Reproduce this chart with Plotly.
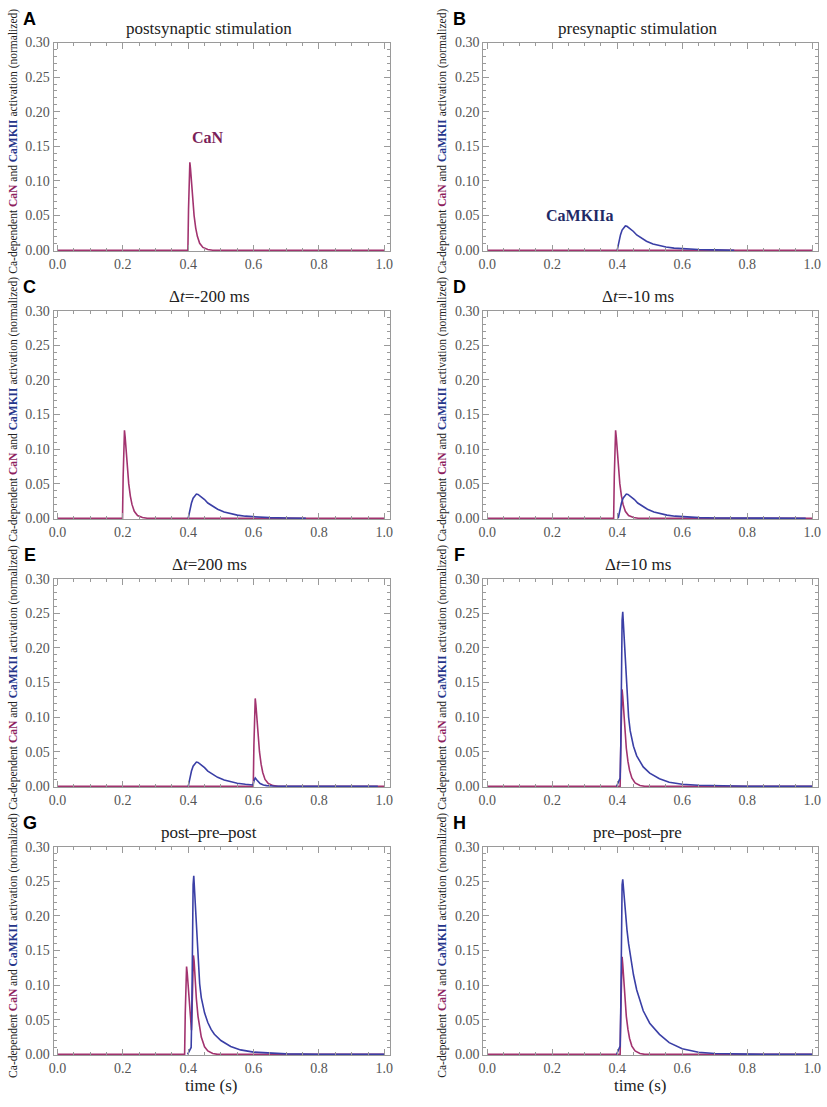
import plotly.graph_objects as go
from plotly.subplots import make_subplots

# ---- data ----
# single postsynaptic spike -> CaN transient (values)
can_single = [0, 0, 0.06, 0.118, 0.127, 0.118, 0.095, 0.07, 0.05, 0.032, 0.02, 0.01, 0.004, 0.001, 0, 0]
# times of that transient in each panel
a_t_can = [0.0, 0.399, 0.401, 0.403, 0.405, 0.407, 0.410, 0.414, 0.418, 0.423, 0.428, 0.435, 0.445, 0.460, 0.475, 1.0]
c_t_can = [0.0, 0.199, 0.201, 0.203, 0.205, 0.207, 0.210, 0.214, 0.218, 0.223, 0.228, 0.235, 0.245, 0.260, 0.275, 1.0]
d_t_can = [0.0, 0.389, 0.391, 0.393, 0.395, 0.397, 0.400, 0.404, 0.408, 0.413, 0.418, 0.425, 0.435, 0.450, 0.465, 1.0]
e_t_can = [0.0, 0.599, 0.601, 0.603, 0.605, 0.607, 0.610, 0.614, 0.618, 0.623, 0.628, 0.635, 0.645, 0.660, 0.675, 1.0]

# flat CaN (presynaptic only)
b_t_can = [0.0, 1.0]
b_y_can = [0, 0]

# single presynaptic spike -> CaMKII transient
camk_single = [0, 0.012, 0.022, 0.029, 0.033, 0.035, 0.0345, 0.031, 0.027, 0.022, 0.017,
               0.013, 0.009, 0.0065, 0.0045, 0.003, 0.002, 0.0009, 0.0004, 0.0]
b_t_camk = [0.400, 0.405, 0.410, 0.415, 0.420, 0.425, 0.430, 0.440, 0.450, 0.460, 0.475,
            0.490, 0.510, 0.530, 0.550, 0.575, 0.600, 0.650, 0.700, 0.760]
d_t_camk = [0.403, 0.408, 0.413, 0.418, 0.423, 0.428, 0.433, 0.443, 0.453, 0.463, 0.478,
            0.493, 0.513, 0.533, 0.553, 0.578, 0.603, 0.653, 0.703, 0.980]

# pre 0.4, post 0.6
e_t_camk = [0.400, 0.405, 0.410, 0.415, 0.420, 0.425, 0.430, 0.440, 0.450, 0.460, 0.475, 0.490,
            0.510, 0.530, 0.550, 0.575, 0.598, 0.602, 0.605, 0.610, 0.615, 0.620, 0.630, 0.640,
            0.660, 0.700, 0.980]
e_y_camk = [0, 0.012, 0.022, 0.029, 0.033, 0.035, 0.0345, 0.031, 0.027, 0.022, 0.017, 0.013,
            0.009, 0.0065, 0.0045, 0.003, 0.002, 0.009, 0.012, 0.009, 0.006, 0.004, 0.002, 0.001,
            0.0004, 0.0001, 0]

# pre 0.4, post 0.41
f_t_camk = [0.398, 0.402, 0.406, 0.409, 0.411, 0.413, 0.415, 0.417, 0.419, 0.422, 0.425, 0.430,
            0.435, 0.440, 0.450, 0.460, 0.470, 0.480, 0.500, 0.530, 0.560, 0.600, 0.650, 0.700,
            0.800, 1.000]
f_y_camk = [0, 0.004, 0.008, 0.012, 0.06, 0.18, 0.24, 0.252, 0.235, 0.2, 0.17, 0.13,
            0.1, 0.08, 0.058, 0.044, 0.035, 0.028, 0.019, 0.011, 0.006, 0.003, 0.0015, 0.0007,
            0.0002, 0]
f_t_can = [0.0, 0.409, 0.411, 0.413, 0.415, 0.417, 0.420, 0.424, 0.428, 0.433, 0.438, 0.445,
           0.455, 0.470, 0.485, 1.0]
f_y_can = [0, 0, 0.06, 0.125, 0.14, 0.13, 0.105, 0.077, 0.055, 0.036, 0.023, 0.012,
           0.005, 0.0012, 0, 0]

# post-pre-post
g_t_can = [0.0, 0.389, 0.391, 0.393, 0.395, 0.397, 0.400, 0.404, 0.408, 0.410, 0.412, 0.414,
           0.416, 0.418, 0.421, 0.425, 0.430, 0.435, 0.440, 0.450, 0.460, 0.475, 0.490, 1.0]
g_y_can = [0, 0, 0.06, 0.118, 0.127, 0.118, 0.095, 0.066, 0.045, 0.035, 0.07, 0.125,
           0.143, 0.135, 0.11, 0.08, 0.055, 0.037, 0.025, 0.011, 0.005, 0.0013, 0, 0]
g_t_camk = f_t_camk
g_y_camk = [0, 0.003, 0.006, 0.01, 0.06, 0.18, 0.245, 0.258, 0.24, 0.205, 0.172, 0.132,
            0.102, 0.082, 0.06, 0.046, 0.036, 0.029, 0.02, 0.0115, 0.0065, 0.0033, 0.0016, 0.0008,
            0.0002, 0]

# pre-post-pre
h_t_camk = f_t_camk
h_y_camk = [0, 0.004, 0.008, 0.012, 0.07, 0.19, 0.245, 0.253, 0.24, 0.22, 0.2, 0.18,
            0.16, 0.145, 0.115, 0.093, 0.076, 0.063, 0.045, 0.029, 0.017, 0.008, 0.003, 0.0012,
            0.0003, 0]
h_t_can = f_t_can
h_y_can = [0, 0, 0.06, 0.126, 0.141, 0.13, 0.105, 0.077, 0.055, 0.036, 0.023, 0.012,
           0.005, 0.0012, 0, 0]

panel_letters = ["A", "B", "C", "D", "E", "F", "G", "H"]
panel_titles = [
    "postsynaptic stimulation", "presynaptic stimulation",
    "Δ<i>t</i>=-200 ms", "Δ<i>t</i>=-10 ms",
    "Δ<i>t</i>=200 ms", "Δ<i>t</i>=10 ms",
    "post\u2013pre\u2013post", "pre\u2013post\u2013pre",
]

# (CaN t, CaN y, CaMKII t, CaMKII y) per panel
panels = [
    (a_t_can, can_single, None, None),
    (b_t_can, b_y_can, b_t_camk, camk_single),
    (c_t_can, can_single, b_t_camk, camk_single),
    (d_t_can, can_single, d_t_camk, camk_single),
    (e_t_can, can_single, e_t_camk, e_y_camk),
    (f_t_can, f_y_can, f_t_camk, f_y_camk),
    (g_t_can, g_y_can, g_t_camk, g_y_camk),
    (h_t_can, h_y_can, h_t_camk, h_y_camk),
]

CAN_COLOR = "#a2336f"
CAMK_COLOR = "#3a3fa6"
FRAME = "#9a9a9a"
SERIF = "Liberation Serif, Times New Roman, DejaVu Serif, serif"

W, H = 827, 1107


def px(p):
    return p / W


def py(p):
    return 1 - p / H


col_px = [(49, 389), (483, 821)]
row_px = [(36, 247), (307.5, 518.5), (579, 790), (850.5, 1061.5)]

fig = make_subplots(rows=4, cols=2)

for i, (tc, yc, tk, yk) in enumerate(panels):
    r, c = i // 2 + 1, i % 2 + 1
    fig.add_trace(go.Scatter(x=tc, y=yc, mode="lines",
                             line=dict(color=CAN_COLOR, width=1.6), showlegend=False),
                  row=r, col=c)
    if tk is not None:
        fig.add_trace(go.Scatter(x=tk, y=yk, mode="lines",
                                 line=dict(color=CAMK_COLOR, width=1.6), showlegend=False),
                      row=r, col=c)

annotations = []
ylab = ("Ca-dependent <span style='color:#8e1f5f'><b>CaN</b></span> and "
        "<span style='color:#25358a'><b>CaMKII</b></span> activation (normalized)")

for i in range(8):
    r, c = i // 2, i % 2
    x0, x1 = col_px[c]
    y0, y1 = row_px[r]
    n = i + 1
    xa = "xaxis" if n == 1 else f"xaxis{n}"
    ya = "yaxis" if n == 1 else f"yaxis{n}"
    fig.layout[xa].domain = [px(x0), px(x1)]
    fig.layout[ya].domain = [py(y1), py(y0)]

    annotations.append(dict(text=panel_titles[i], x=px((x0 + x1) / 2 - 13), y=py(y0 - 14),
                            xref="paper", yref="paper", showarrow=False,
                            xanchor="center", yanchor="middle",
                            font=dict(family=SERIF, size=17, color="#222")))
    annotations.append(dict(text="<b>" + panel_letters[i] + "</b>",
                            x=px(25 + 434 * c), y=py(y0 - 24),
                            xref="paper", yref="paper", showarrow=False,
                            xanchor="center", yanchor="middle",
                            font=dict(family="Liberation Sans, Arial, sans-serif", size=18, color="#000")))
    annotations.append(dict(text=ylab, x=px(9 + 433 * c), y=py((y0 + y1) / 2 - 6),
                            xref="paper", yref="paper", showarrow=False, textangle=-90,
                            xanchor="center", yanchor="middle",
                            font=dict(family=SERIF, size=11.5, color="#222")))

# curve labels in panels A and B
annotations.append(dict(text="<b>CaN</b>", x=0.46, y=0.163, xref="x", yref="y",
                        showarrow=False, font=dict(family=SERIF, size=16, color="#7b1f5a")))
annotations.append(dict(text="<b>CaMKIIa</b>", x=0.285, y=0.05, xref="x2", yref="y2",
                        showarrow=False, font=dict(family=SERIF, size=16, color="#1e2a66")))

# x axis titles under the bottom row
for c in range(2):
    x0, x1 = col_px[c]
    annotations.append(dict(text="time (s)", x=px((x0 + x1) / 2 - 11), y=py(1092),
                            xref="paper", yref="paper", showarrow=False,
                            xanchor="center", yanchor="middle",
                            font=dict(family=SERIF, size=17, color="#222")))

fig.update_xaxes(range=[-0.012, 1.018], tickvals=[0, 0.2, 0.4, 0.6, 0.8, 1.0],
                 tickformat=".1f", ticks="inside", ticklen=6, tickcolor=FRAME,
                 showline=True, linecolor=FRAME, linewidth=1, mirror="ticks",
                 showgrid=False, zeroline=False,
                 minor=dict(dtick=0.05, ticks="inside", ticklen=3, tickcolor=FRAME, showgrid=False),
                 tickfont=dict(family=SERIF, size=14, color="#555"))
fig.update_yaxes(range=[-0.001, 0.30], tickvals=[0, 0.05, 0.10, 0.15, 0.20, 0.25, 0.30],
                 tickformat=".2f", ticks="inside", ticklen=6, tickcolor=FRAME,
                 showline=True, linecolor=FRAME, linewidth=1, mirror="ticks",
                 showgrid=False, zeroline=False,
                 minor=dict(dtick=0.01, ticks="inside", ticklen=3, tickcolor=FRAME, showgrid=False),
                 tickfont=dict(family=SERIF, size=14, color="#555"))

fig.update_layout(
    width=W, height=H,
    margin=dict(l=0, r=0, t=0, b=0),
    paper_bgcolor="white", plot_bgcolor="white",
    annotations=annotations,
    showlegend=False,
)

# drop the default body margin so the 827x1107 figure fills the window exactly
fig.write_html("out.html", config={"displayModeBar": False},
               post_script="document.body.style.margin='0';document.body.style.overflow='hidden';")
